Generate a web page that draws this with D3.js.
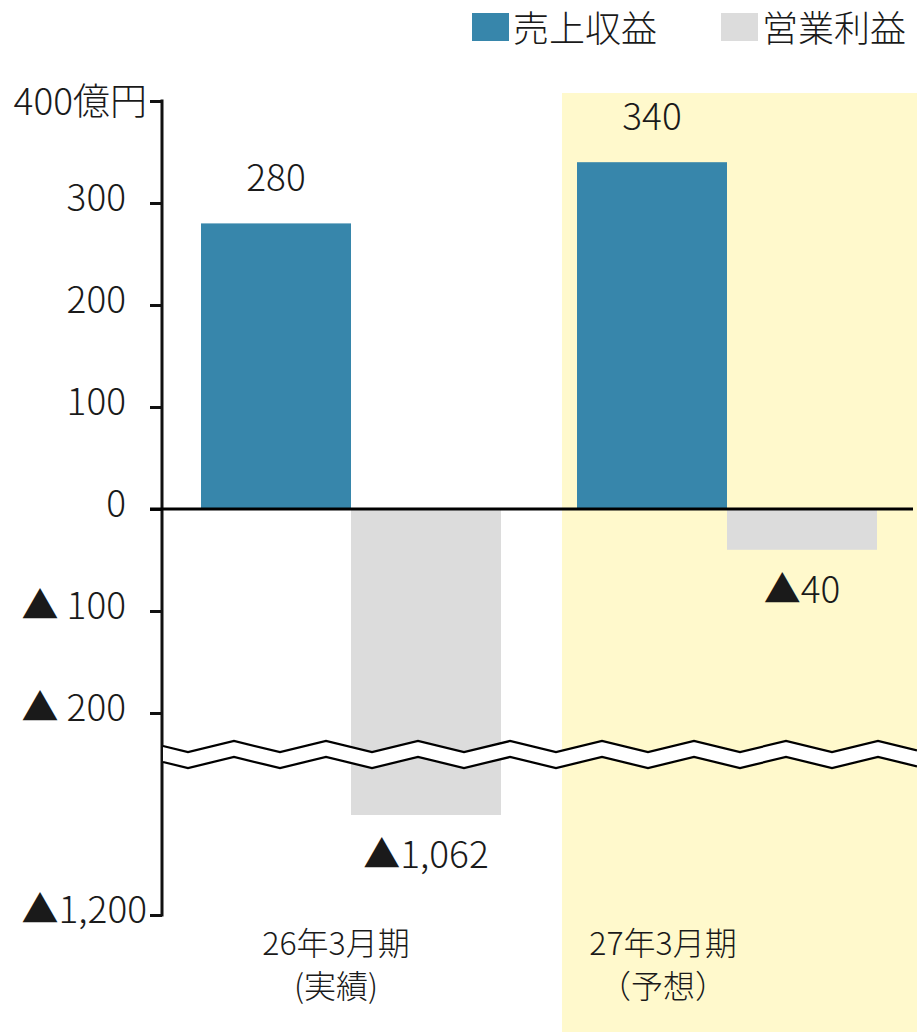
<!DOCTYPE html>
<html lang="ja">
<head>
<meta charset="utf-8">
<script src="https://cdn.jsdelivr.net/npm/d3@7/dist/d3.min.js"></script>
<style>
  html, body { margin: 0; padding: 0; background: #fff; }
  svg { display: block; }
  text { font-family: "Noto Sans CJK JP", "Noto Sans", sans-serif; font-weight: 300; fill: #1a1a1a; }
</style>
</head>
<body>
<svg id="chart" width="917" height="1032"></svg>
<script>
// Periods and their two-line axis labels
const categories = ["26年3月期", "27年3月期"];
const categorySub = ["(実績)", "（予想）"];
// Series (億円)
const seriesNames = ["売上収益", "営業利益"];
const revenue = [280, 340];
const operatingProfit = [-1062, -40];
// Value axis ticks and their labels
const tickValues = [400, 300, 200, 100, 0, -100, -200, -1200];
const tickLabels = ["400億円", "300", "200", "100", "0", "▲ 100", "▲ 200", "▲1,200"];

const colors = { "売上収益": "#3786ab", "営業利益": "#dcdcdc" };
const fmt = v => v < 0 ? "▲" + d3.format(",")(-v) : d3.format(",")(v);

const svg = d3.select("#chart");
const W = 917, H = 1032;

// Broken value axis: the upper segment runs to about ▲230, the lower one covers ▲990..▲1,200
const y = d3.scaleLinear()
  .domain([400, -230, -990, -1200])
  .range([101, 743.6, 762.8, 915]);

const x = d3.scaleBand().domain(categories).range([163, 915]);
const xs = d3.scaleBand().domain(seriesNames).range([38, 338]);

const axisX = 162;

// Forecast period highlight
svg.append("rect")
  .attr("x", x(categories[1]) + 23).attr("y", 93)
  .attr("width", W - (x(categories[1]) + 23)).attr("height", H - 93)
  .attr("fill", "#fff9cc");

// Bars
const rows = categories.map((c, i) => ({ c, values: [
  { s: seriesNames[0], v: revenue[i] },
  { s: seriesNames[1], v: operatingProfit[i] }
]}));

const groups = svg.append("g").selectAll("g").data(rows).join("g")
  .attr("transform", d => `translate(${x(d.c)},0)`);

groups.selectAll("rect").data(d => d.values).join("rect")
  .attr("x", d => xs(d.s))
  .attr("width", xs.bandwidth())
  .attr("y", d => Math.min(y(d.v), y(0)))
  .attr("height", d => Math.abs(y(d.v) - y(0)))
  .attr("fill", d => colors[d.s]);

// Value labels
groups.selectAll("text.val").data(d => d.values).join("text")
  .attr("class", "val")
  .attr("x", d => xs(d.s) + xs.bandwidth() / 2)
  .attr("y", d => d.v >= 0 ? y(d.v) - 48 : y(d.v) + 37)
  .attr("text-anchor", "middle")
  .attr("dominant-baseline", "central")
  .style("font-size", "37px")
  .text(d => fmt(d.v));

// Value axis
const yAxis = d3.axisLeft(y)
  .tickValues(tickValues)
  .tickSize(12)
  .tickFormat((d, i) => tickLabels[i]);

const ag = svg.append("g").attr("transform", `translate(${axisX},0)`).call(yAxis);
ag.select(".domain").remove();
ag.selectAll(".tick line").attr("stroke", "#111").attr("stroke-width", 3);
ag.selectAll(".tick text")
  .attr("x", (d, i) => (i === 0 || i === tickValues.length - 1) ? -15 : -36)
  .attr("dy", null)
  .attr("y", (d, i) => i === 0 ? -3 : -9)
  .attr("dominant-baseline", "central")
  .attr("fill", "#1a1a1a")
  .style("font-size", "37px")
  .style("font-family", "'Noto Sans CJK JP', sans-serif");

svg.append("line")
  .attr("x1", axisX).attr("x2", axisX)
  .attr("y1", y(400) - 1.5).attr("y2", y(-1200) + 1.5)
  .attr("stroke", "#111").attr("stroke-width", 3);

// Zero line
svg.append("line")
  .attr("x1", 150).attr("x2", 913)
  .attr("y1", y(0)).attr("y2", y(0))
  .attr("stroke", "#000").attr("stroke-width", 3);

// Axis break: two parallel zigzags with a white gap
const zig = (offset) => {
  const pts = [];
  const period = 92, x0 = 188, hi = 741, lo = 752;
  const yAt = px => {
    const t = ((px - x0) % period + period) % period;
    const f = t < period / 2 ? t / (period / 2) : 1 - (t - period / 2) / (period / 2);
    return lo + (hi - lo) * f + offset;
  };
  pts.push([axisX + 1, yAt(axisX + 1)]);
  for (let px = x0 - period / 2; px < W; px += period / 2) if (px > axisX + 1) pts.push([px, yAt(px)]);
  pts.push([W, yAt(W)]);
  return pts;
};
const breakUpper = zig(0), breakLower = zig(16);
svg.append("path")
  .attr("d", d3.line()(breakUpper.concat(breakLower.slice().reverse())) + "Z")
  .attr("fill", "#fff");
[breakUpper, breakLower].forEach(p => svg.append("path")
  .attr("d", d3.line()(p))
  .attr("fill", "none").attr("stroke", "#000").attr("stroke-width", 2.2));

// Category labels
const labelShift = [-15, -64];
categories.forEach((c, i) => {
  const cx = x(c) + x.bandwidth() / 2 + labelShift[i];
  svg.append("text").attr("x", cx).attr("y", 941)
    .attr("text-anchor", "middle").attr("dominant-baseline", "central")
    .style("font-size", "32px").text(c);
  svg.append("text").attr("x", cx).attr("y", 984)
    .attr("text-anchor", "middle").attr("dominant-baseline", "central")
    .style("font-size", "32px").text(categorySub[i]);
});

// Legend
const legendX = [472, 721];
seriesNames.forEach((s, i) => {
  svg.append("rect").attr("x", legendX[i]).attr("y", 13)
    .attr("width", 37).attr("height", 28).attr("fill", colors[s]);
  svg.append("text").attr("x", legendX[i] + 41).attr("y", 26)
    .attr("dominant-baseline", "central")
    .style("font-size", "36px").text(s);
});
</script>
</body>
</html>
